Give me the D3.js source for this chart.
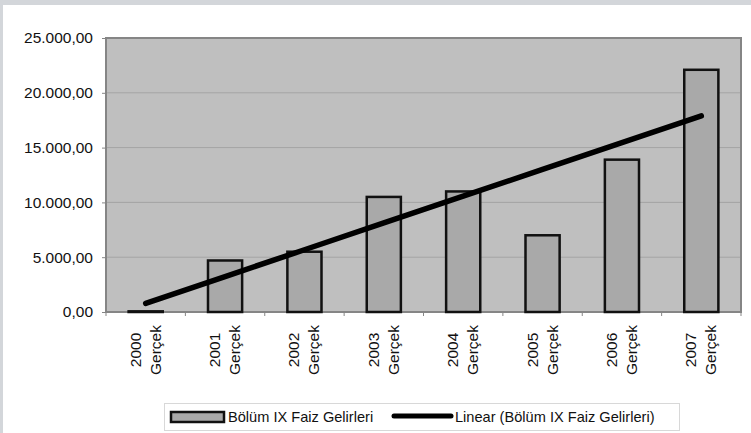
<!DOCTYPE html>
<html>
<head>
<meta charset="utf-8">
<script src="https://cdn.jsdelivr.net/npm/d3@7"></script>
<style>
  html, body { margin: 0; padding: 0; background: #fff; }
  #chart { width: 751px; height: 433px; }
  text { font-family: "Liberation Sans", Arial, sans-serif; fill: #111; }
</style>
</head>
<body>
<div id="chart"></div>
<script>
// data
const years = ["2000", "2001", "2002", "2003", "2004", "2005", "2006", "2007"];
const subLabel = "Gerçek";
const faizGelirleri = [60, 4700, 5500, 10500, 11000, 7000, 13900, 22100];
const yTicks = [0, 5000, 10000, 15000, 20000, 25000];
const seriesName = "Bölüm IX Faiz Gelirleri";
const trendName = "Linear (Bölüm IX Faiz Gelirleri)";

const width = 751, height = 433;
const margin = { top: 38, right: 10, bottom: 121, left: 106 };
const innerWidth = 741 - margin.left;
const innerHeight = 312 - margin.top;

const svg = d3.select("#chart").append("svg")
    .attr("width", width)
    .attr("height", height);

// scan frame (gray strips at top/left)
svg.append("rect").attr("x", 0).attr("y", 0).attr("width", width).attr("height", 5).attr("fill", "#d3d6da");
svg.append("rect").attr("x", 0).attr("y", 0).attr("width", 3).attr("height", height).attr("fill", "#d3d6da");

const g = svg.append("g")
    .attr("transform", `translate(${margin.left},${margin.top})`);

const data = years.map((y, i) => ({ year: y, value: faizGelirleri[i] }));

const xScale = d3.scaleBand()
    .domain(years)
    .range([0, innerWidth])
    .paddingInner(0.57)
    .paddingOuter(0.285);

const yScale = d3.scaleLinear()
    .domain([0, 25000])
    .range([innerHeight, 0]);

// plot area
g.append("rect")
    .attr("width", innerWidth)
    .attr("height", innerHeight)
    .attr("fill", "#bfbfbf");

// gridlines
g.selectAll(".grid")
    .data(yTicks.slice(1, -1))
    .enter().append("line")
    .attr("x1", 0).attr("x2", innerWidth)
    .attr("y1", d => yScale(d)).attr("y2", d => yScale(d))
    .attr("stroke", "#a4a4a4")
    .attr("stroke-width", 1);

g.append("rect")
    .attr("width", innerWidth)
    .attr("height", innerHeight)
    .attr("fill", "none")
    .attr("stroke", "#858585")
    .attr("stroke-width", 2);

// y axis
const fmt = v => d3.format(",.2f")(v).replace(/,/g, "#").replace(".", ",").replace(/#/g, ".");
const leftAxis = d3.axisLeft(yScale).tickValues(yTicks).tickFormat(fmt).tickSize(4).tickPadding(9);
const ya = g.append("g").call(leftAxis);
ya.select(".domain").attr("stroke", "#858585");
ya.selectAll(".tick line").attr("stroke", "#858585");
ya.selectAll("text").attr("font-size", 15.5).attr("fill", "#111")
    .style("font-family", "'Liberation Sans', Arial, sans-serif");

// x axis ticks between categories
const step = xScale.step();
g.selectAll(".xtick")
    .data(d3.range(years.length + 1))
    .enter().append("line")
    .attr("x1", i => i * step).attr("x2", i => i * step)
    .attr("y1", innerHeight).attr("y2", innerHeight + 4)
    .attr("stroke", "#858585");

// x labels: two rotated lines
const xl = g.selectAll(".xlabel")
    .data(years)
    .enter().append("g")
    .attr("transform", d => `translate(${xScale(d) + xScale.bandwidth() / 2},${350 - margin.top}) rotate(-90)`);
xl.append("text")
    .attr("text-anchor", "middle")
    .attr("x", 0).attr("y", -5)
    .attr("font-size", 15.5)
    .text(d => d);
xl.append("text")
    .attr("text-anchor", "middle")
    .attr("x", 0).attr("y", 15)
    .attr("font-size", 15.5)
    .text(subLabel);

// bars
g.selectAll(".bar")
    .data(data)
    .enter().append("rect")
    .attr("x", d => xScale(d.year))
    .attr("y", d => yScale(d.value))
    .attr("width", xScale.bandwidth())
    .attr("height", d => innerHeight - yScale(d.value))
    .attr("fill", "#a9a9a9")
    .attr("stroke", "#111")
    .attr("stroke-width", 2.5);

// linear trendline (least squares over category index)
const xs = data.map((d, i) => i + 1);
const mx = d3.mean(xs), my = d3.mean(data, d => d.value);
const slope = d3.sum(data, (d, i) => (xs[i] - mx) * (d.value - my)) / d3.sum(xs, x => (x - mx) ** 2);
const intercept = my - slope * mx;
const trend = data.map((d, i) => ({ year: d.year, value: intercept + slope * xs[i] }));

const line = d3.line()
    .x(d => xScale(d.year) + xScale.bandwidth() / 2)
    .y(d => yScale(d.value));

g.append("path")
    .datum(trend)
    .attr("fill", "none")
    .attr("stroke", "#000")
    .attr("stroke-width", 5.5)
    .attr("stroke-linecap", "round")
    .attr("d", line);

// legend
const legend = svg.append("g");
legend.append("rect")
    .attr("x", 164.5).attr("y", 403.5)
    .attr("width", 515).attr("height", 27)
    .attr("fill", "#fff")
    .attr("stroke", "#d8d8d8");
legend.append("rect")
    .attr("x", 171).attr("y", 412)
    .attr("width", 53).attr("height", 10)
    .attr("fill", "#a9a9a9")
    .attr("stroke", "#111")
    .attr("stroke-width", 2.5);
legend.append("text")
    .attr("x", 228).attr("y", 422)
    .attr("font-size", 14.6)
    .text(seriesName);
legend.append("line")
    .attr("x1", 394).attr("x2", 451)
    .attr("y1", 416).attr("y2", 416)
    .attr("stroke", "#000")
    .attr("stroke-width", 5)
    .attr("stroke-linecap", "round");
legend.append("text")
    .attr("x", 455).attr("y", 422)
    .attr("font-size", 14.6)
    .text(trendName);
</script>
</body>
</html>
